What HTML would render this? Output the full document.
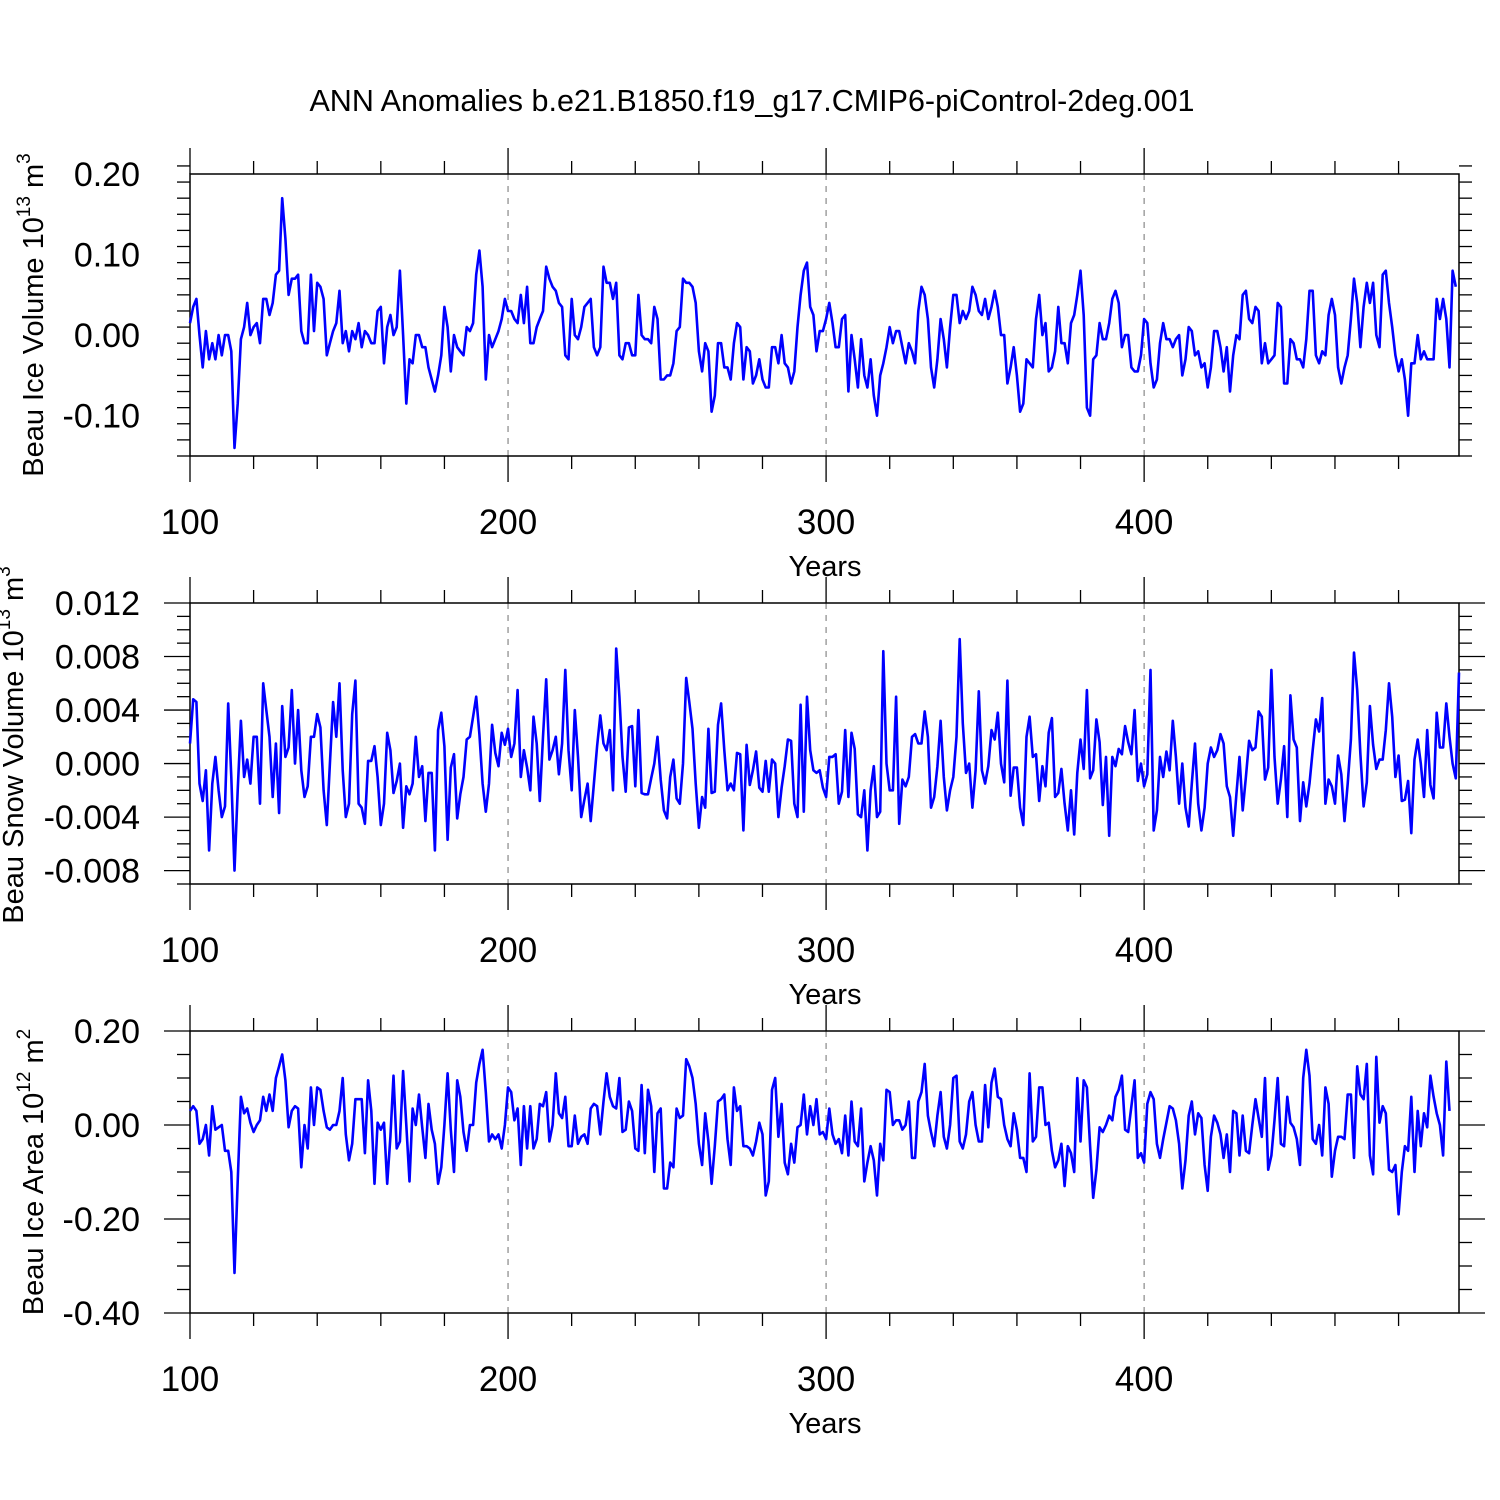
<!DOCTYPE html>
<html><head><meta charset="utf-8"><style>
html,body{margin:0;padding:0;background:#fff}
svg{display:block}
text{font-family:"Liberation Sans",Arial,sans-serif;fill:#000}
</style></head><body>
<svg id="chart" width="1500" height="1500" viewBox="0 0 1500 1500" xmlns="http://www.w3.org/2000/svg">
<text x="752" y="111" font-size="30.5" text-anchor="middle">ANN Anomalies b.e21.B1850.f19_g17.CMIP6-piControl-2deg.001</text>
</svg>
<script>
const startYear = 100;
const xTickLabels = ["100","200","300","400"];
const iceVolume = [0.015,0.035,0.045,0.0,-0.04,0.005,-0.03,-0.01,-0.03,0.0,-0.025,0.0,0.0,-0.02,-0.14,-0.085,-0.005,0.01,0.04,0.0,0.01,0.015,-0.01,0.045,0.045,0.025,0.04,0.075,0.08,0.17,0.12,0.05,0.07,0.07,0.075,0.005,-0.01,-0.01,0.075,0.005,0.065,0.06,0.045,-0.025,-0.01,0.005,0.015,0.055,-0.01,0.005,-0.02,0.005,-0.005,0.015,-0.015,0.005,0.0,-0.01,-0.01,0.03,0.035,-0.035,0.01,0.025,0.0,0.01,0.08,0.0,-0.085,-0.03,-0.035,0.0,0.0,-0.015,-0.015,-0.04,-0.055,-0.07,-0.05,-0.025,0.035,0.01,-0.045,0.0,-0.015,-0.02,-0.025,0.01,0.005,0.015,0.075,0.105,0.06,-0.055,0.0,-0.015,-0.005,0.005,0.02,0.045,0.03,0.03,0.02,0.015,0.05,0.015,0.06,-0.01,-0.01,0.01,0.02,0.03,0.085,0.07,0.06,0.055,0.04,0.035,-0.025,-0.03,0.045,0.0,-0.005,0.01,0.035,0.04,0.045,-0.015,-0.025,-0.015,0.085,0.065,0.065,0.045,0.065,-0.025,-0.03,-0.01,-0.01,-0.025,-0.025,0.05,0.0,-0.005,-0.005,-0.01,0.035,0.02,-0.055,-0.055,-0.05,-0.05,-0.035,0.005,0.01,0.07,0.065,0.065,0.06,0.04,-0.02,-0.045,-0.01,-0.02,-0.095,-0.075,-0.01,-0.01,-0.04,-0.04,-0.055,-0.01,0.015,0.01,-0.055,-0.015,-0.02,-0.06,-0.05,-0.03,-0.055,-0.065,-0.065,-0.015,-0.015,-0.035,0.0,-0.035,-0.04,-0.06,-0.045,0.01,0.05,0.08,0.09,0.035,0.025,-0.02,0.005,0.005,0.02,0.04,0.015,-0.015,-0.015,0.02,0.025,-0.07,0.0,-0.03,-0.065,-0.005,-0.05,-0.065,-0.03,-0.075,-0.1,-0.05,-0.035,-0.015,0.01,-0.01,0.005,0.005,-0.015,-0.035,-0.01,-0.02,-0.035,0.03,0.06,0.05,0.02,-0.04,-0.065,-0.03,0.02,-0.005,-0.04,0.01,0.05,0.05,0.015,0.03,0.02,0.03,0.06,0.05,0.03,0.025,0.045,0.02,0.035,0.055,0.035,0.0,0.0,-0.06,-0.04,-0.015,-0.05,-0.095,-0.085,-0.03,-0.035,-0.04,0.02,0.05,0.0,0.015,-0.045,-0.04,-0.02,0.035,-0.01,-0.01,-0.035,0.015,0.025,0.05,0.08,0.025,-0.09,-0.1,-0.03,-0.025,0.015,-0.005,-0.005,0.015,0.045,0.055,0.04,-0.015,0.0,0.0,-0.04,-0.045,-0.045,-0.025,0.02,0.015,-0.035,-0.065,-0.055,-0.01,0.015,-0.005,-0.005,-0.015,-0.005,0.0,-0.05,-0.03,0.01,0.005,-0.025,-0.02,-0.04,-0.035,-0.065,-0.04,0.005,0.005,-0.015,-0.045,-0.015,-0.07,-0.025,0.0,-0.005,0.05,0.055,0.02,0.015,0.035,0.03,-0.035,-0.01,-0.035,-0.03,-0.025,0.04,0.035,-0.06,-0.06,-0.005,-0.01,-0.03,-0.03,-0.04,-0.005,0.055,0.055,-0.025,-0.035,-0.02,-0.025,0.025,0.045,0.025,-0.04,-0.06,-0.04,-0.025,0.02,0.07,0.04,-0.015,0.035,0.065,0.04,0.065,0.0,-0.015,0.075,0.08,0.04,0.01,-0.025,-0.045,-0.03,-0.055,-0.1,-0.035,-0.035,0.0,-0.03,-0.02,-0.03,-0.03,-0.03,0.045,0.02,0.045,0.02,-0.04,0.08,0.06];
const snowVolume = [1.5,4.8,4.6,-1.5,-2.8,-0.5,-6.5,-1.5,0.5,-2,-4,-3.2,4.5,-1,-8,-2,3.2,-1,0.3,-1.5,2,2,-3,6,4,2,-2.5,1.5,-3.7,4.3,0.5,1.2,5.5,0,4,-0.5,-2.5,-1.7,2,2,3.7,2.7,-2,-4.6,0,4.6,2,6,-0.5,-4,-3,3.7,6.2,-3,-3.3,-4.5,0.2,0.2,1.3,-1,-4.6,-3,2.3,1,-2.2,-1.3,0,-4.8,-1.7,-2.3,-1.5,2,-1,-0.2,-4.3,-0.7,-0.7,-6.5,2.5,3.8,1.3,-5.7,-0.3,0.7,-4.1,-2.3,-1,1.8,2,3.5,5,2.2,-1.5,-3.6,-1.5,2.9,0.8,-0.2,2.3,1.4,2.6,0.5,1.5,5.5,-1,1,-0.3,-2,3.5,1.5,-2.8,2,6.3,0.3,1,2,-0.8,1.5,7,1,-2,4,0.5,-4,-2.7,-1.5,-4.3,-1.5,1.3,3.6,1.5,1,2.5,-2,8.6,5,0.5,-2.1,2.7,2.8,-1.7,4,-2.2,-2.3,-2.3,-1.1,0,2,-1.2,-3.5,-4.1,-1,0.3,-2.6,-3,0,6.4,4.6,2.6,-1.5,-4.8,-2.5,-3.3,2.6,-2.2,-2.1,2.9,4.5,1,-2,-1.5,-2,0.8,0.7,-5,1.4,-1.6,-0.5,0.9,-1.8,-2.1,0.2,-2.1,0.3,0,-4,-1.8,-0.2,1.8,1.7,-3,-4,4.4,-3.6,5,1,-0.5,-0.7,-0.5,-1.8,-2.5,0.5,0.5,0.7,-3,-2.1,2.5,-2.5,2.3,1.1,-3.8,-4,-2,-6.5,-2,-0.2,-4,-3.6,8.4,0,-2,-2,5,-4.5,-1.2,-1.7,-1,2,2.2,1.5,1.5,3.9,2,-3.3,-2.5,-0.2,3.2,-1,-3.5,-2,-1,2,9.3,3,-0.7,0,-3.3,-0.5,5.4,-0.5,-1.5,-0.2,2.5,1.8,3.8,0,-1.4,6.2,-2.4,-0.3,-0.3,-3.3,-4.6,2,3.5,0.5,0.7,-2.8,-0.2,-1.7,2.3,3.4,-2.5,-2.2,-0.4,-3,-5,-2,-5.3,-0.7,1.8,-0.4,5.5,-1.1,-0.5,3.3,1.6,-3.1,0.5,-5.4,0.5,-0.2,1.1,0.7,2.8,1.6,0.7,4,-1.3,0,-1.7,-0.8,7,-5,-3.5,0.5,-1,0.9,-0.5,3.2,0.5,-3,0,-3.3,-4.7,-1.5,1.5,-3,-5,-3.3,0,1.2,0.5,1,2.2,1.5,-1.7,-2.5,-5.4,-2.3,0.5,-3.5,-1,1.7,1,1.2,3.9,3.5,-1.2,-0.3,7,0.5,-3,-1.2,1.3,-4,5.1,1.8,1.2,-4.3,-1.4,-3.2,-1.5,1,3.3,2.4,4.9,-3,-1.2,-1.7,-3,0.6,-0.8,-4.3,-1.5,1.8,8.3,5.5,0.7,-3.2,-1.4,4.3,1.4,-0.4,0.3,0.3,2.5,6,3.5,-1,0.6,-2.8,-2.7,-1.3,-5.2,0.3,1.8,0,-2.5,2.5,-1.6,-2.6,3.8,1.2,1.2,4.5,2,0,-1.1,6.8].map(v=>v/1000);
const iceArea = [0.03,0.04,0.03,-0.04,-0.03,0.0,-0.065,0.04,-0.01,-0.005,0.0,-0.055,-0.055,-0.1,-0.315,-0.12,0.06,0.025,0.035,0.005,-0.015,0.0,0.01,0.06,0.03,0.065,0.03,0.1,0.125,0.15,0.095,-0.005,0.03,0.04,0.035,-0.09,0.0,-0.05,0.08,0.0,0.08,0.075,0.03,-0.005,-0.01,0.0,0.0,0.03,0.1,-0.02,-0.075,-0.04,0.055,0.055,0.055,-0.06,0.095,0.03,-0.125,0.005,-0.01,0.005,-0.125,-0.025,0.105,-0.05,-0.035,0.115,0.0,-0.12,0.035,0.0,0.065,-0.005,-0.07,0.045,-0.01,-0.04,-0.125,-0.09,0.0,0.11,-0.01,-0.1,0.095,0.06,-0.015,-0.055,0.0,0.0,0.09,0.13,0.16,0.07,-0.035,-0.02,-0.03,-0.02,-0.05,0.0,0.08,0.07,0.01,0.035,-0.085,0.04,-0.05,0.04,-0.05,-0.03,0.045,0.04,0.07,-0.035,0.0,0.11,0.025,0.015,0.06,-0.045,-0.045,0.02,-0.04,-0.025,-0.02,-0.04,0.035,0.045,0.04,-0.02,0.05,0.11,0.06,0.04,0.035,0.1,-0.015,-0.01,0.05,0.03,-0.05,-0.055,0.085,-0.06,0.075,0.04,-0.1,0.025,0.035,-0.135,-0.135,-0.08,-0.09,0.035,0.015,0.02,0.14,0.125,0.1,0.045,-0.04,-0.085,0.025,-0.035,-0.125,-0.045,0.05,0.055,0.065,-0.03,-0.085,0.08,0.03,0.04,-0.045,-0.045,-0.05,-0.065,-0.035,0.005,-0.02,-0.15,-0.12,0.075,0.1,-0.025,0.045,-0.08,-0.105,-0.04,-0.08,-0.005,0.0,0.065,-0.02,0.04,0.0,0.055,-0.02,-0.015,-0.03,0.035,-0.02,-0.04,-0.03,-0.06,0.02,-0.065,0.05,-0.035,-0.045,0.035,-0.12,-0.08,-0.045,-0.075,-0.15,-0.04,-0.075,0.075,0.07,0.0,0.01,0.01,-0.01,0.0,0.05,-0.07,-0.07,0.05,0.07,0.13,0.02,-0.015,-0.045,0.02,0.07,-0.025,-0.05,0.0,0.1,0.105,-0.035,-0.05,-0.02,0.05,0.07,0.0,-0.035,-0.035,0.085,-0.005,0.09,0.12,0.06,0.055,0.0,-0.03,-0.045,0.025,-0.01,-0.07,-0.07,-0.1,0.11,-0.035,-0.025,0.08,0.08,0.0,0.005,-0.055,-0.09,-0.075,-0.04,-0.13,-0.045,-0.06,-0.1,0.1,-0.035,0.095,0.08,-0.045,-0.155,-0.095,-0.005,-0.015,0.0,0.02,0.01,0.06,0.075,0.105,-0.01,-0.015,0.04,0.095,-0.07,-0.06,-0.08,0.045,0.07,0.055,-0.04,-0.07,-0.03,0.005,0.04,0.035,0.01,-0.04,-0.135,-0.075,0.02,0.05,-0.02,0.025,0.015,-0.085,-0.14,-0.025,0.02,0.005,-0.02,-0.07,-0.02,-0.1,0.03,0.025,-0.065,0.02,-0.055,-0.06,0.0,0.055,0.015,-0.025,0.1,-0.095,-0.065,0.01,0.1,-0.04,-0.045,0.06,0.005,-0.005,-0.03,-0.085,0.1,0.16,0.105,-0.03,-0.04,0.0,-0.065,0.08,0.045,-0.11,-0.055,-0.025,-0.025,-0.03,0.065,0.065,-0.07,0.125,0.065,0.055,0.13,-0.065,-0.105,0.145,0.005,0.04,0.025,-0.095,-0.1,-0.085,-0.19,-0.1,-0.045,-0.055,0.06,-0.1,0.03,-0.045,0.025,-0.005,0.105,0.06,0.025,0.0,-0.065,0.135,0.03];
const volTicks = ["-0.10","0.00","0.10","0.20"];
const snowTicks = ["-0.008","-0.004","0.000","0.004","0.008","0.012"];
const areaTicks = ["-0.40","-0.20","0.00","0.20"];

const NS = "http://www.w3.org/2000/svg";
const svg = document.getElementById('chart');
const X0 = 190, X1 = 1459, XMIN = 100, XMAX = 499;
function xs(v){ return X0 + (v - XMIN) * (X1 - X0) / (XMAX - XMIN); }
function mk(tag, attrs, parent){ const e = document.createElementNS(NS, tag); for (const k in attrs) e.setAttribute(k, attrs[k]); (parent||svg).appendChild(e); return e; }

const panels = [
 {name:'ice-volume', top:174, bot:456, ymin:-0.15, ymax:0.20, data:iceVolume, ticks:volTicks, minor:0.02, title:['Beau Ice Volume 10','13',' m','3'], tx:43, ty:315},
 {name:'snow-volume', top:603, bot:884, ymin:-0.009, ymax:0.012, data:snowVolume, ticks:snowTicks, minor:0.001, title:['Beau Snow Volume 10','13',' m','3'], tx:23, ty:745},
 {name:'ice-area', top:1031, bot:1313, ymin:-0.40, ymax:0.20, data:iceArea, ticks:areaTicks, minor:0.05, title:['Beau Ice Area 10','12',' m','2'], tx:43, ty:1172}
];

panels.forEach(p => {
  const g = mk('g', {});
  
  
  const ys = v => p.bot - (v - p.ymin) * (p.bot - p.top) / (p.ymax - p.ymin);
  [200,300,400].forEach(v => {
    const l = mk('line', {x1:xs(v), x2:xs(v), y1:p.top, y2:p.bot, stroke:'#888', 'stroke-width':1.2, 'stroke-dasharray':'6,6'}, g);
    
    
  });
  for (let v = 100; v <= 480; v += 20) {
    const major = v % 100 === 0;
    const len = major ? 26 : 13;
    mk('line', {x1:xs(v), x2:xs(v), y1:p.top-len, y2:p.top, stroke:'#000', 'stroke-width':1.3}, g);
    mk('line', {x1:xs(v), x2:xs(v), y1:p.bot, y2:p.bot+len, stroke:'#000', 'stroke-width':1.3}, g);
  }
  const nMinor = Math.round((p.ymax - p.ymin) / p.minor);
  const majorVals = p.ticks.map(Number);
  for (let i = 0; i <= nMinor; i++) {
    const v = p.ymin + i * p.minor;
    const isMajor = majorVals.some(m => Math.abs(m - v) < p.minor / 10);
    const len = isMajor ? 26 : 13;
    const y = ys(v);
    mk('line', {x1:X0-len, x2:X0, y1:y, y2:y, stroke:'#000', 'stroke-width':1.3}, g);
    mk('line', {x1:X1, x2:X1+len, y1:y, y2:y, stroke:'#000', 'stroke-width':1.3}, g);
  }
  p.ticks.forEach(t => {
    const tx = mk('text', {x:140, y:ys(Number(t)) + 12, 'font-size':34, 'text-anchor':'end'}, g);
    tx.textContent = t;
    
    
  });
  xTickLabels.forEach(t => {
    const tx = mk('text', {x:xs(Number(t)), y:p.bot + 78, 'font-size':35, 'text-anchor':'middle'}, g);
    tx.textContent = t;
    
    
  });
  const xt = mk('text', {x:825, y:p.bot + 120, 'font-size':29, 'text-anchor':'middle'}, g);
  xt.textContent = 'Years';
  
  
  const fr = mk('rect', {x:X0, y:p.top, width:X1-X0, height:p.bot-p.top, fill:'none', stroke:'#000', 'stroke-width':1.5}, g);
  
  
  const d = p.data.map((v, i) => (i ? 'L' : 'M') + xs(startYear + i).toFixed(1) + ',' + ys(v).toFixed(1)).join('');
  const path = mk('path', {d:d, fill:'none', stroke:'#0000ff', 'stroke-width':2.6, 'stroke-linejoin':'round'}, g);
  
  
  const yt = mk('text', {x:0, y:0, 'font-size':29, 'text-anchor':'middle', transform:'translate(' + p.tx + ',' + p.ty + ') rotate(-90)'}, g);
  
  
  const parts = p.title;
  const a = mk('tspan', {}, yt); a.textContent = parts[0];
  const b = mk('tspan', {dy:-13, 'font-size':19}, yt); b.textContent = parts[1];
  const c = mk('tspan', {dy:13}, yt); c.textContent = parts[2];
  const e = mk('tspan', {dy:-13, 'font-size':19}, yt); e.textContent = parts[3];
});
</script>
</body></html>
